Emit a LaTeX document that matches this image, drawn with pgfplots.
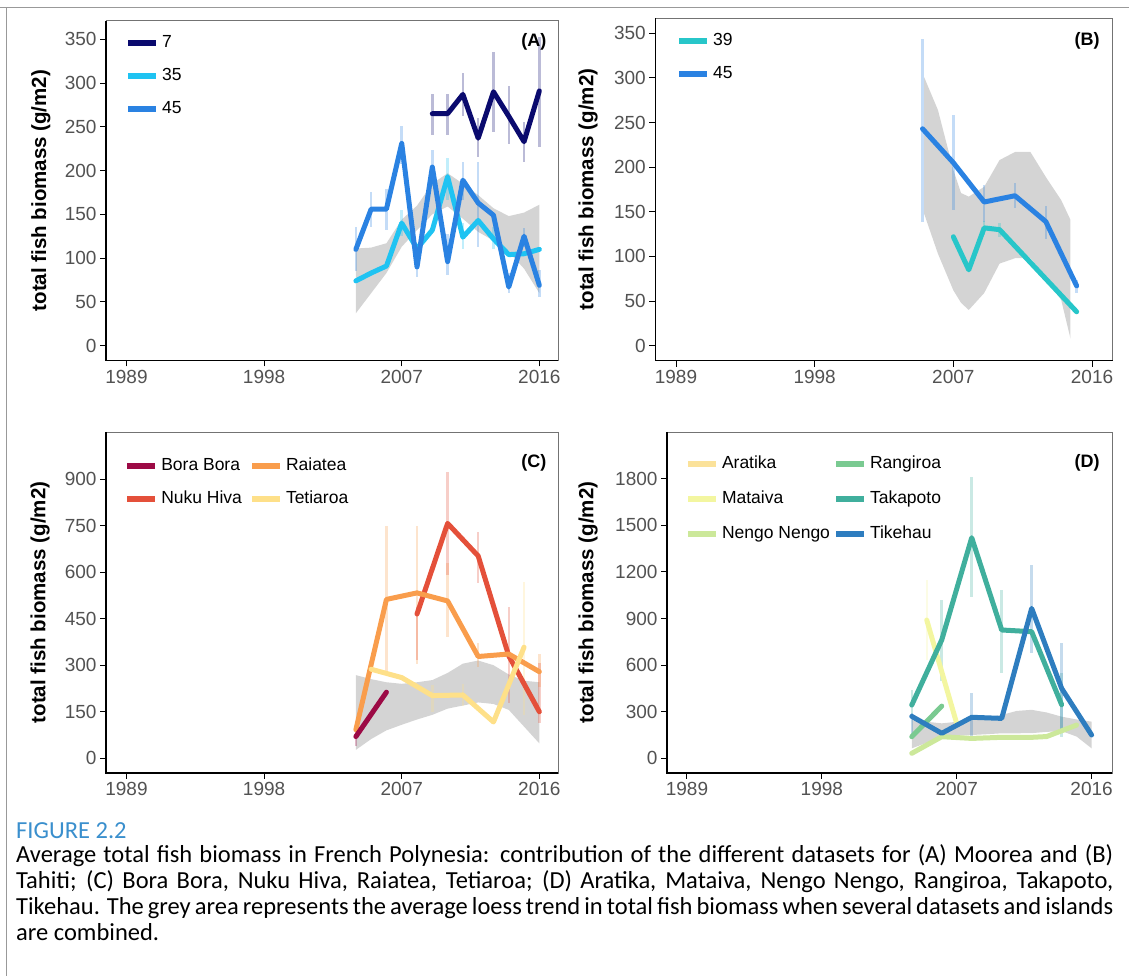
\documentclass[border=0pt]{standalone}
\usepackage{fontspec}
\setmainfont{Liberation Sans}
\newfontfamily\capfont{Carlito}
\usepackage{pgfplots}
\pgfplotsset{compat=1.18}

\definecolor{navyA}{HTML}{0A0A6E}
\definecolor{cyanA}{HTML}{1FC3F2}
\definecolor{blueA}{HTML}{2A82E2}
\definecolor{tealB}{HTML}{27C6C9}
\definecolor{bora}{HTML}{9C0A45}
\definecolor{nuku}{HTML}{E4503A}
\definecolor{raiatea}{HTML}{F99D4C}
\definecolor{tetiaroa}{HTML}{FEE089}
\definecolor{aratika}{HTML}{FBE29A}
\definecolor{mataiva}{HTML}{F3F6A0}
\definecolor{nengo}{HTML}{CCE89A}
\definecolor{rangiroa}{HTML}{7ACA91}
\definecolor{takapoto}{HTML}{40AF9D}
\definecolor{tikehau}{HTML}{2E7DBF}
\definecolor{ribbon}{HTML}{D4D4D4}
\definecolor{capblue}{HTML}{3A8FCD}

\tikzset{plab/.style={anchor=east, font=\bfseries\fontsize{18}{18}\selectfont}}

\pgfplotsset{
  panel/.style={
    scale only axis,
    axis line style={draw=black!55, line width=0.6pt},
    tick align=outside, tick pos=left,
    major tick length=6pt,
    tick style={black, line width=0.9pt},
    xtick={1989,1998,2007,2016},
    xticklabels={1989,1998,2007,2016},
    /pgf/number format/assume math mode=true,
    /pgf/number format/1000 sep={},
    ticklabel style={font=\fontsize{19}{19}\selectfont, text=black!68},
    ylabel={total fish biomass (g/m2)},
    ylabel style={font=\bfseries\fontsize{20.5}{20.5}\selectfont, anchor=center},
    legend cell align=left,
    legend image code/.code={\draw[##1, line cap=butt] (0pt,0pt) -- (28pt,0pt);},
    legend style={draw=none, fill=none, inner sep=0pt, anchor=north west,
      font=\fontsize{17.5}{17.5}\selectfont, row sep=16pt,
      nodes={inner xsep=3pt, inner ysep=1pt, text height=12pt, text depth=3pt}},
    after end axis/.code={\draw[black, line width=1.6pt] (rel axis cs:0,1) -- (rel axis cs:0,0) -- (rel axis cs:1,0);},
  },
  ln/.style={line width=5pt, line join=round, line cap=round, forget plot},
  eb/.style={forget plot, draw=none, mark=none, error bars/.cd, y dir=both, y explicit, error mark=none,
    error bar style={line width=2.5pt, draw=#1, opacity=0.28}},
  rib/.style={fill=ribbon, draw=none, forget plot},
  lg/.style={line width=6pt, #1},
}

\begin{document}
\begin{tikzpicture}[x=1pt,y=1pt]
\useasboundingbox (0,0) rectangle (1129,976);
\draw[black!40, line width=1.2pt] (0,968.7) -- (1129,968.7);
\draw[black!40, line width=1.2pt] (6.5,968.7) -- (6.5,0);

% ---------------- Panel A ----------------
\begin{axis}[panel, at={(106pt,615.5pt)}, anchor=south west, width=452pt, height=339.8pt,
  xmin=1987.66, xmax=2017.22, ymin=-16.9, ymax=371.2,
  ytick={0,50,100,150,200,250,300,350},
  ylabel style={at={(axis description cs:-0.144,0.5)}},
  legend style={at={(axis description cs:0.042,0.961)}}]
\addplot[rib] coordinates {(2004,111) (2005,112) (2006,117) (2007,144) (2008,160) (2009,185) (2010,197) (2011,185) (2012,172) (2013,157) (2014,148) (2015,152) (2016,161)
 (2016,60) (2015,88) (2014,107) (2013,120) (2012,130) (2011,145) (2010,159) (2009,150) (2008,132) (2007,113) (2006,83) (2005,60) (2004,37)} -- cycle;
\addplot[eb=navyA] coordinates {(2009,264.5) +- (0,23.5) (2010,264.5) +- (0,23.5) (2011,287) +- (0,25) (2012,238) +- (0,22) (2013,289.5) +- (0,45.5) (2014,263.5) +- (0,33.5) (2015,232.5) +- (0,22.5) (2016,290) +- (0,63)};
\addplot[eb=blueA] coordinates {(2004,110.5) +- (0,25.5) (2005,155.5) +- (0,19.5) (2006,155.5) +- (0,23.5) (2007,229.5) +- (0,21.5) (2008,96) +- (0,17) (2009,203) +- (0,21) (2010,104.5) +- (0,23.5) (2011,188) +- (0,22) (2012,161.5) +- (0,48.5) (2014,71.5) +- (0,11.5) (2015,123.5) +- (0,10.5) (2016,71) +- (0,15)};
\addplot[eb=cyanA] coordinates {(2007,140) +- (0,15) (2010,190) +- (0,24) (2011,125) +- (0,15) (2013,122.5) +- (0,12.5)};
\addplot[ln, cyanA] coordinates {(2004,74) (2005,83) (2006,91) (2007,140) (2008,111) (2009,132) (2010,193) (2011,124) (2012,143) (2013,122) (2014,104) (2015,105) (2016,110)};
\addplot[ln, blueA] coordinates {(2004,110) (2005,156) (2006,156) (2007,231) (2008,90) (2009,204) (2010,96) (2011,189) (2012,163) (2013,149) (2014,67) (2015,125) (2016,69)};
\addplot[ln, navyA] coordinates {(2009,265) (2010,265) (2011,287) (2012,237) (2013,290) (2014,262) (2015,233) (2016,291)};
\addlegendimage{lg=navyA}\addlegendentry{7}
\addlegendimage{lg=cyanA}\addlegendentry{35}
\addlegendimage{lg=blueA}\addlegendentry{45}
\node[plab] at (axis description cs:0.982,0.937) {(A)};
\end{axis}

% ---------------- Panel B ----------------
\begin{axis}[panel, at={(655.3pt,615.3pt)}, anchor=south west, width=457.4pt, height=342.4pt,
  xmin=1987.66, xmax=2017.34, ymin=-16.8, ymax=366.8,
  ytick={0,50,100,150,200,250,300,350},
  ylabel style={at={(axis description cs:-0.147,0.5)}},
  legend style={at={(axis description cs:0.045,0.958)}}]
\addplot[rib] coordinates {(2005.1,301) (2006,264) (2007,197) (2007.5,171) (2008,167) (2009,178) (2010,208) (2011,217) (2012,217) (2013,189) (2014,163) (2014.6,141)
 (2014.6,8) (2014,51) (2013,77) (2012,98) (2011,98) (2010,92) (2009,59) (2008,40) (2007.5,48) (2007,62) (2006,103) (2005.1,148)} -- cycle;
\addplot[eb=blueA] coordinates {(2005,241.5) +- (0,102.5) (2007,205) +- (0,53) (2009,159.5) +- (0,20.5) (2011,168) +- (0,14) (2013,138) +- (0,18) (2015,66.5) +- (0,7.5)};
\addplot[eb=tealB] coordinates {(2009,132) +- (0,8) (2010,130) +- (0,8)};
\addplot[ln, tealB] coordinates {(2007,122) (2008,85) (2009,132) (2010,130) (2015,38)};
\addplot[ln, blueA] coordinates {(2005,243) (2007,205) (2009,161) (2011,168) (2013,139) (2015,67)};
\addlegendimage{lg=tealB}\addlegendentry{39}
\addlegendimage{lg=blueA}\addlegendentry{45}
\node[plab] at (axis description cs:0.979,0.935) {(B)};
\end{axis}

% ---------------- Panel C ----------------
\begin{axis}[panel, at={(106pt,203pt)}, anchor=south west, width=452pt, height=341pt,
  xmin=1987.66, xmax=2017.22, ymin=-47.4, ymax=1051.5,
  ytick={0,150,300,450,600,750,900},
  ylabel style={at={(axis description cs:-0.146,0.5)}},
  legend columns=2,
  legend style={at={(axis description cs:0.04,0.927)}, /tikz/every even column/.append style={column sep=4pt}}]
\addplot[rib] coordinates {(2004,268) (2005,255) (2006,245) (2007,240) (2008,245) (2009,252) (2010,275) (2011,305) (2012,315) (2013,300) (2014,270) (2015,250) (2016,245)
 (2016,48) (2015,102) (2014,156) (2013,175) (2012,180) (2011,170) (2010,160) (2009,140) (2008,125) (2007,108) (2006,90) (2005,62) (2004,27)} -- cycle;
\addplot[eb=raiatea] coordinates {(2006,512.5) +- (0,237.5) (2008,527.5) +- (0,222.5) (2010,509) +- (0,119) (2012,332.5) +- (0,37.5) (2016,282.5) +- (0,52.5)};
\addplot[eb=nuku] coordinates {(2008,403) +- (0,86) (2010,757.5) +- (0,166.5) (2012,647) +- (0,83) (2014,333) +- (0,156) (2016,209.5) +- (0,96.5)};
\addplot[eb=tetiaroa] coordinates {(2009,192.5) +- (0,42.5) (2011,205) +- (0,35) (2015,354.5) +- (0,214.5)};
\addplot[eb=bora] coordinates {(2004,67.5) +- (0,27.5)};
\addplot[ln, nuku] coordinates {(2008,465) (2010,757) (2012,652) (2014,330) (2016,150)};
\addplot[ln, raiatea] coordinates {(2004,92) (2006,512) (2008,533) (2010,507) (2012,328) (2014,336) (2016,279)};
\addplot[ln, tetiaroa] coordinates {(2005,287) (2007,260) (2009,202) (2011,204) (2013,117) (2015,358)};
\addplot[ln, bora] coordinates {(2004,70) (2006,213)};
\addlegendimage{lg=bora}\addlegendentry{Bora Bora}
\addlegendimage{lg=raiatea}\addlegendentry{Raiatea}
\addlegendimage{lg=nuku}\addlegendentry{Nuku Hiva}
\addlegendimage{lg=tetiaroa}\addlegendentry{Tetiaroa}
\node[plab] at (axis description cs:0.982,0.909) {(C)};
\end{axis}

% ---------------- Panel D ----------------
\begin{axis}[panel, at={(667pt,203pt)}, anchor=south west, width=445pt, height=341pt,
  xmin=1987.67, xmax=2017.36, ymin=-94.6, ymax=2100.6,
  ytick={0,300,600,900,1200,1500,1800},
  ylabel style={at={(axis description cs:-0.1775,0.5)}},
  legend columns=2,
  legend style={at={(axis description cs:0.04,0.933)}, row sep=18pt, /tikz/every even column/.append style={column sep=0pt}}]
\addplot[rib] coordinates {(2004,246) (2005,235) (2006,225) (2007,235) (2008,246) (2009,262) (2010,279) (2011,305) (2012,312) (2013,295) (2014,268) (2015,250) (2016,236)
 (2016,64) (2015,140) (2014,175) (2013,170) (2012,162) (2011,161) (2010,161) (2009,155) (2008,150) (2007,145) (2006,139) (2005,100) (2004,64)} -- cycle;
\addplot[eb=takapoto] coordinates {(2004,345) +- (0,95) (2006,759.5) +- (0,259.5) (2008,1426.5) +- (0,386.5) (2010,815) +- (0,268) (2014,343) +- (0,204)};
\addplot[eb=tikehau] coordinates {(2004,214.5) +- (0,75.5) (2008,268) +- (0,150) (2012,960) +- (0,284) (2014,450.5) +- (0,289.5)};
\addplot[eb=mataiva] coordinates {(2005,889) +- (0,259)};
\addplot[ln, nengo] coordinates {(2004,32) (2006,139) (2008,128) (2010,135) (2012,135) (2013,140) (2015,214)};
\addplot[ln, rangiroa] coordinates {(2004,139) (2006,336)};
\addplot[ln, mataiva] coordinates {(2005,890) (2007,224)};
\addplot[ln, takapoto] coordinates {(2004,343) (2006,762) (2008,1420) (2010,826) (2012,815) (2014,345)};
\addplot[ln, tikehau] coordinates {(2004,270) (2006,161) (2008,264) (2010,257) (2012,965) (2014,450) (2016,150)};
\addlegendimage{lg=aratika}\addlegendentry{Aratika}
\addlegendimage{lg=rangiroa}\addlegendentry{Rangiroa}
\addlegendimage{lg=mataiva}\addlegendentry{Mataiva}
\addlegendimage{lg=takapoto}\addlegendentry{Takapoto}
\addlegendimage{lg=nengo}\addlegendentry{Nengo Nengo}
\addlegendimage{lg=tikehau}\addlegendentry{Tikehau}
\node[plab] at (axis description cs:0.98,0.909) {(D)};
\end{axis}

% ---------------- Caption ----------------
\node[anchor=base west, inner sep=0pt] at (16,153) {\parbox[t]{1097pt}{\capfont\fontsize{24.5}{26}\selectfont\setlength{\parindent}{0pt}%
{\color{capblue}FIGURE 2.2}\par\vspace{-2pt}
\makebox[1097pt][s]{Average total fish biomass in French Polynesia: contribution of the different datasets for (A) Moorea and (B)}\par
\makebox[1097pt][s]{Tahiti; (C) Bora Bora, Nuku Hiva, Raiatea, Tetiaroa; (D) Aratika, Mataiva, Nengo Nengo, Rangiroa, Takapoto,}\par
\makebox[1097pt][s]{Tikehau. The grey area represents the average loess trend in total fish biomass when several datasets and islands}\par
are combined.}};
\end{tikzpicture}
\end{document}
